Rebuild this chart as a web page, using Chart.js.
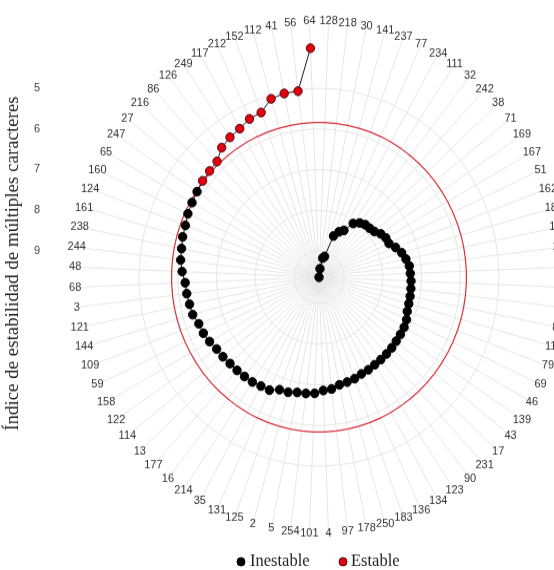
<!DOCTYPE html>
<html>
<head>
<meta charset="utf-8">
<script src="https://cdn.jsdelivr.net/npm/chart.js@4.4.1/dist/chart.umd.min.js"></script>
<style>
  html, body { margin: 0; padding: 0; background: #fff; overflow: hidden; }
  body { width: 554px; height: 570px; position: relative; }
  /* the reference picture is slightly taller than wide */
  #chart { position: absolute; left: 0; top: 0; transform: scaleY(1.05); transform-origin: 0 0; }
</style>
</head>
<body>
<canvas id="chart" width="640" height="553"></canvas>
<script>
const labels = [
  "128", "218", "30", "141", "237", "77", "234", "111", "32", "242",
  "38", "71", "169", "167", "51", "162", "184", "148", "199", "190",
  "203", "62", "85", "119", "79", "69", "46", "139", "43", "17",
  "231", "90", "123", "134", "136", "183", "250", "178", "97", "4",
  "101", "254", "5", "2", "125", "131", "35", "214", "16", "177",
  "13", "114", "122", "158", "59", "109", "144", "121", "3", "68",
  "48", "244", "238", "161", "124", "160", "65", "247", "27", "216",
  "86", "126", "249", "117", "212", "152", "112", "41", "56", "64",
];

const values = [
  9.65, 9.44, 9.17, 9.12, 8.57, 8.42, 8.33, 8.06, 7.95, 7.89,
  7.87, 7.83, 7.73, 7.67, 7.66, 7.54, 7.43, 7.36, 7.30, 7.29,
  7.27, 7.26, 7.25, 7.24, 7.22, 7.16, 7.13, 7.12, 7.11, 7.09,
  7.08, 7.07, 7.06, 7.04, 7.03, 6.99, 6.97, 6.95, 6.88, 6.86,
  6.79, 6.77, 6.76, 6.71, 6.70, 6.59, 6.58, 6.55, 6.54, 6.53,
  6.52, 6.49, 6.47, 6.41, 6.36, 6.34, 6.26, 6.24, 6.21, 6.19,
  6.11, 6.05, 6.03, 5.99, 5.97, 5.92, 5.89, 5.86, 5.82, 5.80,
  5.77, 5.59, 5.51, 5.46, 5.36, 5.33, 5.09, 5.04, 5.04, 4.01,
];

const threshold = 5.84;
const radialTicks = [9, 8, 7, 6, 5];
const scaleMin = 3.32;
const scaleMax = 9.65;
const legendNames = ["Inestable", "Estable"];
const yTitle = "Índice de estabilidad de múltiples caracteres";

const black = "#000000";
const red = "#e3000f";
const redEdge = "#4a0c0c";
const labelRadius = 244;
const legendSpots = [[241, 250], [343, 351]];

const extrasPlugin = {
  id: "extras",
  beforeDatasetDraw(chart, args) {
    // connecting line of the main series, left open at the end
    if (args.index !== 0) return;
    const ctx = chart.ctx;
    const pts = args.meta.data;
    ctx.save();
    ctx.strokeStyle = "#1a1a1a";
    ctx.lineWidth = 1;
    ctx.beginPath();
    pts.forEach((p, i) => (i ? ctx.lineTo(p.x, p.y) : ctx.moveTo(p.x, p.y)));
    ctx.stroke();
    ctx.restore();
  },
  afterDraw(chart) {
    const ctx = chart.ctx;
    const scale = chart.scales.r;
    ctx.save();
    ctx.font = "11px 'Liberation Sans', Arial, sans-serif";
    ctx.fillStyle = "#333333";
    ctx.textAlign = "center";
    ctx.textBaseline = "middle";
    labels.forEach((label, i) => {
      const pos = scale.getPointPosition(i, labelRadius);
      ctx.fillText(label, pos.x, pos.y);
    });
    ctx.fillStyle = "#444444";
    radialTicks.forEach((v) => {
      ctx.fillText(String(v), 37, scale.yCenter - scale.getDistanceFromCenterForValue(v));
    });

    // legend
    ctx.font = "16.5px 'Liberation Serif', 'Times New Roman', serif";
    ctx.textAlign = "left";
    ctx.fillStyle = "#222222";
    legendNames.forEach((name, i) => {
      const [mx, tx] = legendSpots[i];
      ctx.beginPath();
      ctx.arc(mx, 535, 4, 0, Math.PI * 2);
      ctx.fillStyle = i === 0 ? black : red;
      ctx.fill();
      ctx.lineWidth = 1;
      ctx.strokeStyle = i === 0 ? black : redEdge;
      ctx.stroke();
      ctx.fillStyle = "#222222";
      ctx.fillText(name, tx, 535);
    });

    // radial axis title
    ctx.translate(13, 251);
    ctx.rotate(-Math.PI / 2);
    ctx.textAlign = "center";
    ctx.font = "18px 'Liberation Serif', 'Times New Roman', serif";
    ctx.fillStyle = "#222222";
    ctx.fillText(yTitle, 0, 0);
    ctx.restore();
  },
};

new Chart(document.getElementById("chart"), {
  type: "radar",
  data: {
    labels,
    datasets: [
      {
        label: "Índice",
        data: values,
        showLine: false,
        fill: false,
        pointRadius: 4.2,
        pointBorderWidth: 1,
        pointBackgroundColor: values.map((v) => (v < threshold ? red : black)),
        pointBorderColor: values.map((v) => (v < threshold ? redEdge : black)),
        order: 0,
      },
      {
        label: "Umbral",
        data: labels.map(() => threshold),
        fill: false,
        borderColor: "#d9303c",
        borderWidth: 1.2,
        pointRadius: 0,
        order: 1,
      },
    ],
  },
  options: {
    responsive: false,
    animation: false,
    devicePixelRatio: 1,
    layout: { padding: { top: 19, left: 74, right: 76, bottom: 44 } },
    scales: {
      r: {
        min: scaleMin,
        max: scaleMax,
        reverse: true,
        startAngle: 360 / labels.length / 2,
        ticks: { display: false, reverse: true },
        afterBuildTicks: (scale) => {
          scale.ticks = [scaleMax, ...radialTicks].map((value) => ({ value }));
        },
        grid: { circular: true, color: "#e6e6e6", lineWidth: 1 },
        angleLines: { color: "#e6e6e6", lineWidth: 1 },
        pointLabels: { display: false },
      },
    },
    plugins: {
      tooltip: { enabled: false },
      legend: { display: false },
    },
  },
  plugins: [extrasPlugin],
});
</script>
</body>
</html>
